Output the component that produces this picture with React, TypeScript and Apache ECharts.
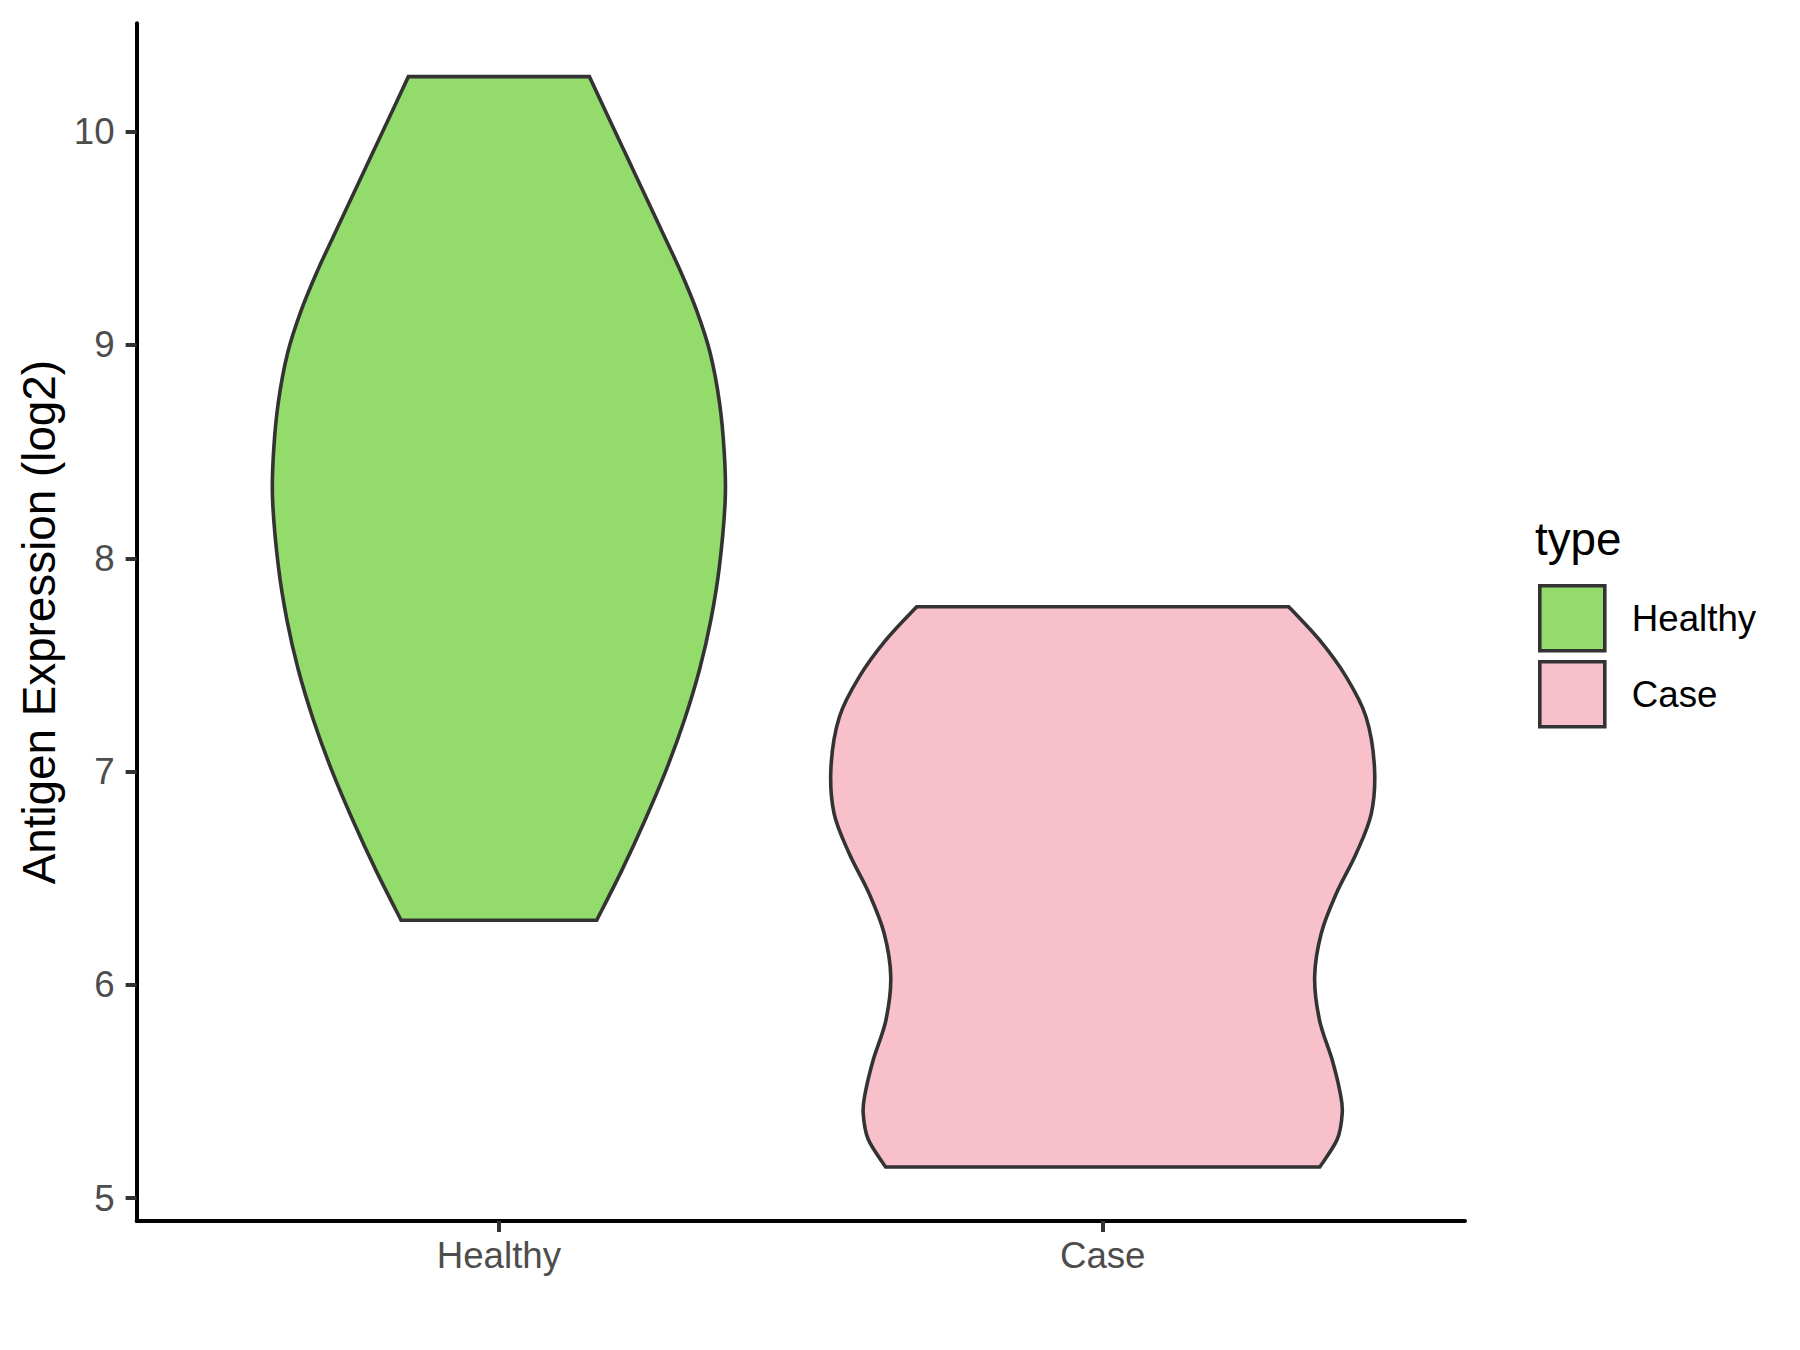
import React, { useEffect, useRef } from "react";
import * as echarts from "echarts";

// ---- data ----
const categories = ["Healthy", "Case"];
const yTicks = [5, 6, 7, 8, 9, 10];
const healthyValues = [10.258, 10.102, 9.914, 9.711, 9.508, 9.352, 9.164, 8.961, 8.727, 8.492, 8.273, 7.961, 7.711, 7.476, 7.242, 7.008, 6.773, 6.539, 6.303];
const healthyHalfWidths = [0.1499, 0.1757, 0.2069, 0.2405, 0.2741, 0.2998, 0.3271, 0.35, 0.3655, 0.3733, 0.3748, 0.3652, 0.3511, 0.3321, 0.3072, 0.2771, 0.2421, 0.204, 0.162];
const caseValues = [7.773, 7.617, 7.445, 7.257, 7.023, 6.805, 6.617, 6.429, 6.242, 6.038, 5.835, 5.648, 5.492, 5.4, 5.276, 5.146];
const caseHalfWidths = [0.308, 0.359, 0.403, 0.436, 0.45, 0.445, 0.42, 0.387, 0.362, 0.351, 0.359, 0.3801, 0.3934, 0.3967, 0.3884, 0.3594];
const fillColors = ["#93DB6B", "#F7C0CB"];

const FONT = '"Liberation Sans", Arial, sans-serif';
const STROKE = "#333333";

function spline(p: number[][]): string {
  let s = "";
  for (let i = 0; i < p.length - 1; i++) {
    const p0 = p[i - 1] || p[i];
    const p1 = p[i];
    const p2 = p[i + 1];
    const p3 = p[i + 2] || p[i + 1];
    const c1x = p1[0] + (p2[0] - p0[0]) / 6;
    const c1y = p1[1] + (p2[1] - p0[1]) / 6;
    const c2x = p2[0] - (p3[0] - p1[0]) / 6;
    const c2y = p2[1] - (p3[1] - p1[1]) / 6;
    s += `C${c1x},${c1y},${c2x},${c2y},${p2[0]},${p2[1]}`;
  }
  return s;
}

function makeRender(values: number[], widths: number[], color: string) {
  return (params: any, api: any) => {
    const c = api.value(0);
    const left = values.map((v, i) => api.coord([c - widths[i], v]));
    const right = values.map((v, i) => api.coord([c + widths[i], v])).reverse();
    const d =
      `M${left[0][0]},${left[0][1]}` +
      spline(left) +
      `L${right[0][0]},${right[0][1]}` +
      spline(right) +
      "Z";
    return {
      type: "path",
      shape: { pathData: d },
      style: { fill: color, stroke: STROKE, lineWidth: 3.6, lineJoin: "miter" },
    };
  };
}

export default function App() {
  const ref = useRef<HTMLDivElement>(null);
  useEffect(() => {
    if (!ref.current) return;
    const chart = echarts.init(ref.current, null, { renderer: "svg" });
    const profiles = [
      [healthyValues, healthyHalfWidths],
      [caseValues, caseHalfWidths],
    ];
    chart.setOption({
      animation: false,
      backgroundColor: "#FFFFFF",
      grid: { left: 136.6, right: 335, top: 23.3, bottom: 129, containLabel: false },
      xAxis: {
        type: "value",
        min: 0.4,
        max: 2.6,
        axisLine: { show: true, lineStyle: { color: "#000000", width: 4 } },
        axisTick: {
          show: true,
          customValues: [1, 2],
          length: 11,
          lineStyle: { color: STROKE, width: 4 },
        },
        axisLabel: {
          customValues: [1, 2],
          formatter: (v: number) => categories[Math.round(v) - 1] ?? "",
          color: "#4D4D4D",
          fontSize: 36.7,
          fontFamily: FONT,
          margin: 16,
        },
        splitLine: { show: false },
      },
      yAxis: {
        type: "value",
        min: 4.893,
        max: 10.508,
        name: "Antigen Expression (log2)",
        nameLocation: "middle",
        nameGap: 70,
        nameTextStyle: { color: "#000000", fontSize: 45.8, fontFamily: FONT },
        axisLine: { show: true, lineStyle: { color: "#000000", width: 4 } },
        axisTick: {
          show: true,
          customValues: yTicks,
          length: 11,
          lineStyle: { color: STROKE, width: 4 },
        },
        axisLabel: {
          customValues: yTicks,
          color: "#4D4D4D",
          fontSize: 36.7,
          fontFamily: FONT,
          margin: 22,
        },
        splitLine: { show: false },
      },
      legend: {
        orient: "vertical",
        left: 1538,
        top: 584,
        padding: 0,
        itemWidth: 65,
        itemHeight: 65,
        itemGap: 7.4,
        textStyle: { fontSize: 36.7, fontFamily: FONT, color: "#000000", padding: [0, 0, 0, 22] },
        data: categories.map((name, i) => ({
          name,
          icon: "rect",
          itemStyle: { color: fillColors[i], borderColor: STROKE, borderWidth: 3.6 },
        })),
      },
      graphic: [
        {
          type: "text",
          left: 1535,
          top: 516,
          style: { text: "type", fontSize: 45.8, fontFamily: FONT, fill: "#000000" },
        },
      ],
      series: categories.map((name, i) => ({
        type: "custom",
        name,
        coordinateSystem: "cartesian2d",
        itemStyle: { color: fillColors[i] },
        encode: { x: 0, y: 1 },
        data: [[i + 1, profiles[i][0][0]]],
        renderItem: makeRender(profiles[i][0], profiles[i][1], fillColors[i]),
      })),
    });
    return () => chart.dispose();
  }, []);
  return (
    <div
      ref={ref}
      style={{ position: "fixed", left: 0, top: 0, width: 1800, height: 1350, background: "#fff" }}
    />
  );
}
